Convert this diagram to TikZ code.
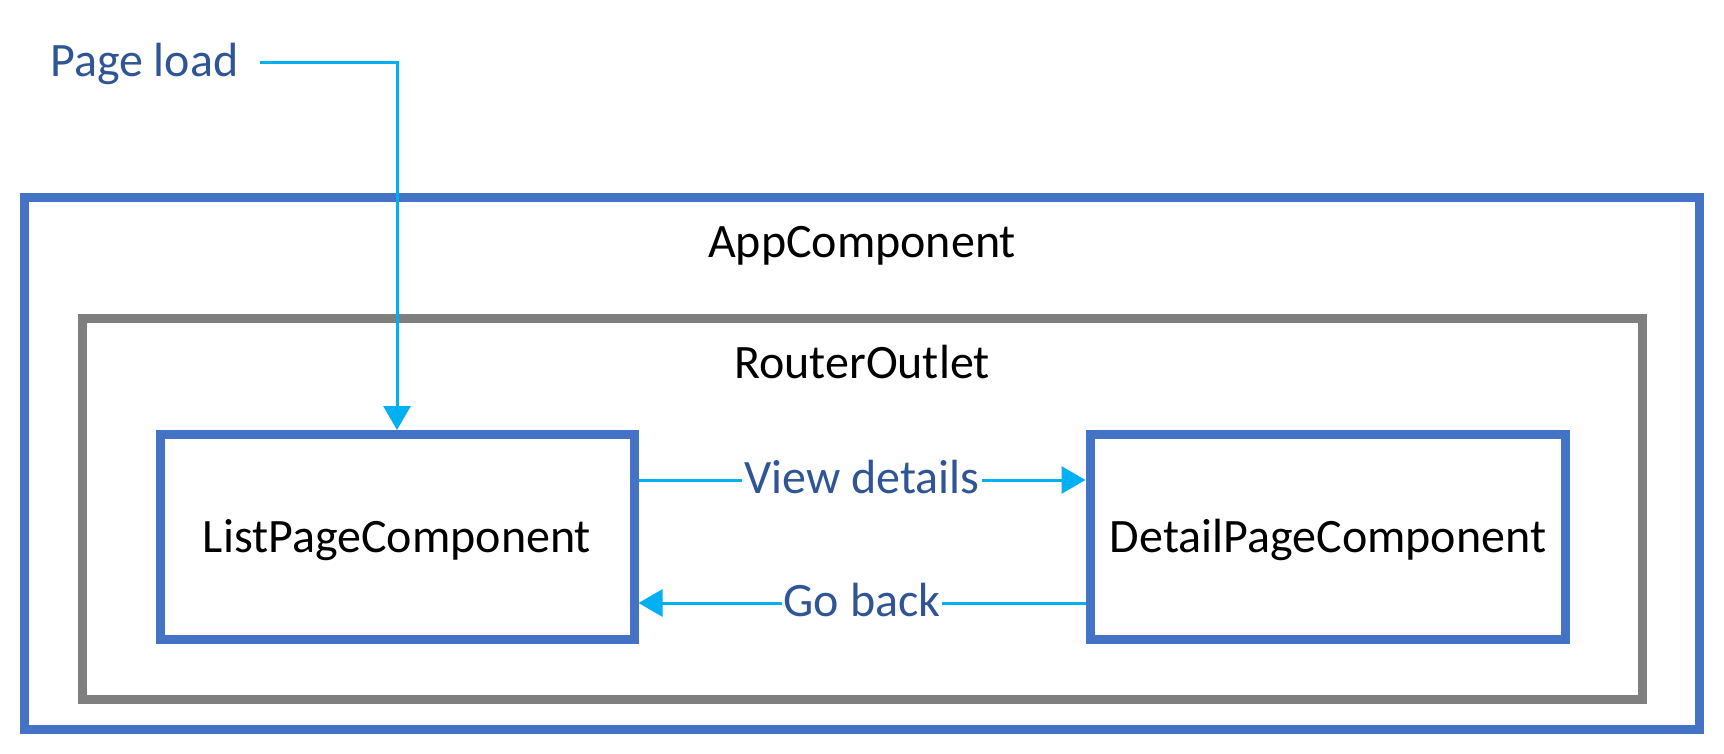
\documentclass[tikz,border=0pt]{standalone}
\usepackage{fontspec}
\setmainfont{Carlito}
\usetikzlibrary{arrows.meta}
\definecolor{boxblue}{HTML}{4472C4}
\definecolor{boxgray}{HTML}{7F7F7F}
\definecolor{arrowblue}{HTML}{00B0F0}
\definecolor{labelblue}{HTML}{2F5597}
\tikzset{
  bluebox/.style={draw=boxblue, line width=9pt, rectangle, inner sep=0pt},
  graybox/.style={draw=boxgray, line width=9pt, rectangle, inner sep=0pt},
  conn/.style={draw=arrowblue, line width=3pt, -{Triangle[width=27pt,length=24pt]}},
  lbl/.style={fill=white, text=labelblue, inner xsep=2pt, inner ysep=2pt, anchor=base, yshift=-13pt},
  title/.style={inner sep=0pt, anchor=base, text=black},
}
\begin{document}
\begin{tikzpicture}[x=1pt, y=-1pt, font=\fontsize{48}{58}\selectfont]
\useasboundingbox (0,0) rectangle (1724,754);
\node[bluebox, minimum width=1675pt, minimum height=531.5pt] (app) at (862,463.25) {};
\node[graybox, minimum width=1559.5pt, minimum height=381pt] (router) at (862.25,509) {};
\node[bluebox, minimum width=474pt, minimum height=205pt] (list) at (397,537) {};
\node[bluebox, minimum width=475pt, minimum height=205pt] (detail) at (1327.5,537) {};
\node[title] (apptxt) at (862,257) {AppComponent};
\node[title] (routertxt) at (862,378) {RouterOutlet};
\node[title] (listtxt) at (397,552) {ListPageComponent};
\node[title] (detailtxt) at (1328,552) {DetailPageComponent};
\node[inner sep=0pt, anchor=base west, text=labelblue] (pl) at (50,77) {Page load};
\coordinate (plstart) at (260,63);
\coordinate (vd) at (0,480);
\coordinate (gb) at (0,603);
\draw[conn] (plstart) -| (list.north);
\draw[conn] (list.east |- vd) -- node[lbl] {View details} (detail.west |- vd);
\draw[conn] (detail.west |- gb) -- node[lbl] {Go back} (list.east |- gb);
\end{tikzpicture}
\end{document}
